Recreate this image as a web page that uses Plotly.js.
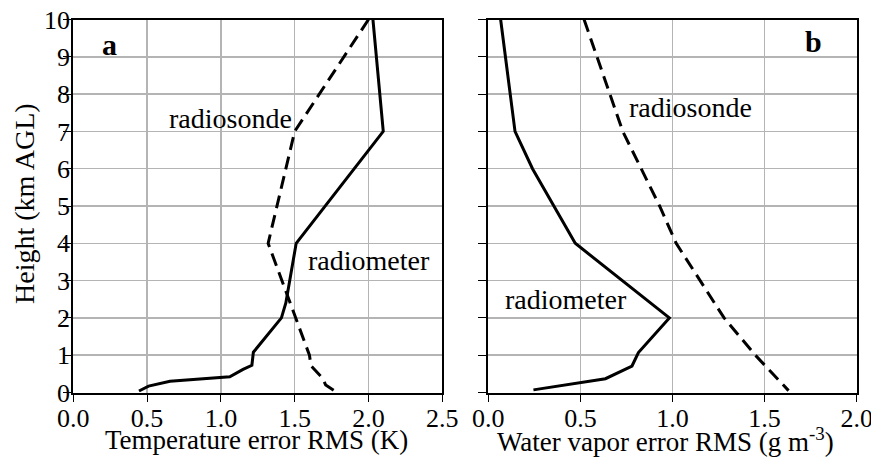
<!DOCTYPE html>
<html>
<head>
<meta charset="utf-8">
<script src="https://cdn.plot.ly/plotly-3.0.1.min.js"></script>
<style>
html,body{margin:0;padding:0;background:#fff;}
#chart{width:871px;height:463px;}
</style>
</head>
<body>
<div id="chart"></div>
<script>
// Panel a: temperature error RMS (K)
const tempRadiometerHeight = [10, 7, 4, 2.4, 2.0, 1.08, 0.73, 0.62, 0.42, 0.30, 0.17, 0.04];
const tempRadiometerRMS    = [2.03, 2.10, 1.51, 1.44, 1.41, 1.22, 1.21, 1.15, 1.06, 0.655, 0.51, 0.445];
const tempRadiosondeHeight = [10, 7, 4, 1.0, 0.72, 0.38, 0.2, 0.02];
const tempRadiosondeRMS    = [2.00, 1.50, 1.32, 1.60, 1.61, 1.69, 1.71, 1.78];

// Panel b: water vapor error RMS (g m-3)
const wvRadiometerHeight = [10, 7, 6, 4, 2, 1.07, 0.71, 0.37, 0.07];
const wvRadiometerRMS    = [0.067, 0.145, 0.24, 0.472, 0.983, 0.815, 0.78, 0.636, 0.245];
const wvRadiosondeHeight = [10, 9, 8, 7, 6, 5, 4, 3, 2, 1, 0.05];
const wvRadiosondeRMS    = [0.52, 0.59, 0.66, 0.73, 0.83, 0.93, 1.02, 1.15, 1.28, 1.45, 1.63];

const heightTicks = [0,1,2,3,4,5,6,7,8,9,10];
const tempTicks = [0, 0.5, 1.0, 1.5, 2.0, 2.5];
const wvTicks = [0, 0.5, 1.0, 1.5, 2.0];

const xTitleA = 'Temperature error RMS (K)';
const xTitleB = 'Water vapor error RMS (g m<sup>-3</sup>)';
const yTitle = 'Height (km AGL)';

const FONT = "'Liberation Serif', 'Times New Roman', serif";
const solid = {color:'#000', width:3};
const dashed = {color:'#000', width:3, dash:'13px,7px'};

const traces = [
  {x: tempRadiosondeRMS, y: tempRadiosondeHeight, mode:'lines', line: dashed, xaxis:'x', yaxis:'y', name:'radiosonde'},
  {x: tempRadiometerRMS, y: tempRadiometerHeight, mode:'lines', line: solid, xaxis:'x', yaxis:'y', name:'radiometer'},
  {x: wvRadiosondeRMS, y: wvRadiosondeHeight, mode:'lines', line: dashed, xaxis:'x2', yaxis:'y2', name:'radiosonde'},
  {x: wvRadiometerRMS, y: wvRadiometerHeight, mode:'lines', line: solid, xaxis:'x2', yaxis:'y2', name:'radiometer'}
];

function axisBase(extra) {
  return Object.assign({
    showline:true, linecolor:'#000', linewidth:2, mirror:true,
    showgrid:true, gridcolor:'#b4b4b4', gridwidth:1.5, zeroline:false,
    ticks:'outside', ticklen:8, tickcolor:'#000', tickwidth:1,
    ticklabeloverflow:'allow',
    tickfont:{family:FONT, size:26, color:'#000'}
  }, extra);
}

const yDomain = [(463-392.5)/463, (463-19.5)/463];
const txt = (size) => ({family:FONT, size:size, color:'#000'});

const layout = {
  width:871, height:463,
  margin:{l:0, r:0, t:0, b:0},
  paper_bgcolor:'#fff', plot_bgcolor:'#fff',
  showlegend:false,
  font:{family:FONT, color:'#000'},
  xaxis: axisBase({
    domain:[73.3/871, 442.3/871], range:[0,2.5], tickvals: tempTicks, tickformat:'.1f', anchor:'y',
    ticklen:7, ticklabelstandoff:-6
  }),
  yaxis: axisBase({
    domain:yDomain, range:[0,10], tickvals: heightTicks, anchor:'x',
    ticklabelstandoff:-12
  }),
  xaxis2: axisBase({
    domain:[488.3/871, 856.7/871], range:[0,2], tickvals: wvTicks, tickformat:'.1f', anchor:'y2',
    ticklen:7, ticklabelstandoff:-6
  }),
  yaxis2: axisBase({
    domain:yDomain, range:[0,10], tickvals: heightTicks, anchor:'x2', showticklabels:false
  }),
  annotations:[
    {xref:'paper', yref:'paper', x:256/871, y:(463-440)/463, xanchor:'center', yanchor:'middle', text:xTitleA, showarrow:false, font:txt(27)},
    {xref:'paper', yref:'paper', x:665/871, y:(463-440)/463, xanchor:'center', yanchor:'middle', text:xTitleB, showarrow:false, font:txt(27)},
    {xref:'paper', yref:'paper', x:24/871, y:(463-204)/463, xanchor:'center', yanchor:'middle', textangle:-90, text:yTitle, showarrow:false, font:txt(28)},
    {xref:'x', yref:'y', x:0.242, y:9.33, text:'<b>a</b>', showarrow:false, font:txt(30)},
    {xref:'x2', yref:'y2', x:1.763, y:9.40, text:'<b>b</b>', showarrow:false, font:txt(30)},
    {xref:'x', yref:'y', x:0.633, y:7.35, text:'radiosonde', xanchor:'left', yanchor:'middle', showarrow:false, font:txt(28)},
    {xref:'x', yref:'y', x:1.577, y:3.54, text:'radiometer', xanchor:'left', yanchor:'middle', showarrow:false, font:txt(28)},
    {xref:'x2', yref:'y2', x:0.755, y:7.64, text:'radiosonde', xanchor:'left', yanchor:'middle', showarrow:false, font:txt(28)},
    {xref:'x2', yref:'y2', x:0.081, y:2.5, text:'radiometer', xanchor:'left', yanchor:'middle', showarrow:false, font:txt(28)}
  ]
};

Plotly.newPlot('chart', traces, layout, {staticPlot:true, displayModeBar:false});
</script>
</body>
</html>
